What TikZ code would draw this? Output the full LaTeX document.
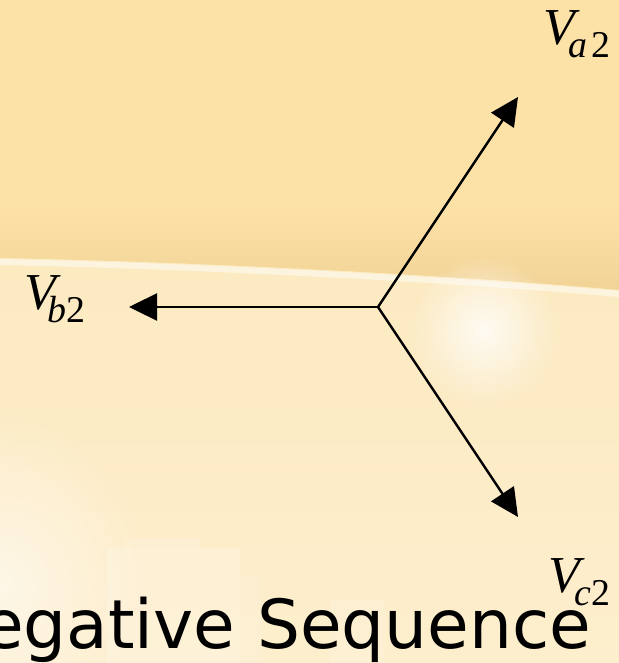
\documentclass[tikz,border=0pt]{standalone}
\usepackage{fontspec}
\setmainfont{Liberation Serif}
\newfontfamily\titlefont{DejaVu Sans}
\usetikzlibrary{arrows.meta,fadings}
\definecolor{skytop}{RGB}{253,226,168}
\definecolor{skyband}{RGB}{241,211,150}
\definecolor{groundtop}{RGB}{252,234,193}
\definecolor{groundbot}{RGB}{253,238,205}
\tikzfading[name=softglow, inner color=transparent!0, outer color=transparent!100]
\tikzset{
  phasor/.style={line width=2.4bp, -{Triangle[length=28bp,width=27bp]}},
  vlabel/.style={anchor=base west, inner sep=0pt, font=\fontsize{52}{52}\selectfont\itshape},
  title/.style={anchor=base west, inner sep=0pt, font=\titlefont\fontsize{68}{68}\selectfont}
}
\newcommand{\vsub}[2]{V\kern#1\raisebox{-13bp}{\fontsize{38}{38}\selectfont #2}}
\begin{document}
\begin{tikzpicture}[x=1bp,y=-1bp]
\useasboundingbox (0,0) rectangle (619,663);
% background sky
\fill[skytop] (0,0) rectangle (619,300);
\begin{scope}
  \clip (0,170) -- (619,170) -- (619,290) .. controls (450,275) and (200,262) .. (0,258) -- cycle;
  \shade[top color=skytop, bottom color=skyband] (0,205) rectangle (619,290);
\end{scope}
% ground
\shade[top color=groundtop, bottom color=groundbot]
  (0,258) .. controls (200,262) and (450,275) .. (619,290) -- (619,663) -- (0,663) -- cycle;
\draw[white, opacity=0.5, line width=6bp]
  (0,262) .. controls (200,266) and (450,279) .. (619,294);
% glows
\fill[white, opacity=0.8, path fading=softglow] (484,330) circle (75);
\fill[white, opacity=0.55, path fading=softglow] (0,585) ellipse (150 and 170);
% faint buildings
\fill[white, opacity=0.2] (107,548) rectangle (240,663);
\fill[white, opacity=0.15] (125,538) rectangle (200,548);
\fill[white, opacity=0.12] (330,600) rectangle (385,663);
\fill[white, opacity=0.1] (240,575) rectangle (262,663);
% phasors
\coordinate (O) at (378,307);
\coordinate (A) at (518,97);
\coordinate (B) at (129,307);
\coordinate (C) at (518,517);
\draw[phasor, line cap=round] (O) -- (A);
\draw[phasor, line cap=round] (O) -- (B);
\draw[phasor, line cap=round] (O) -- (C);
% labels
\node[vlabel] (la) at (543,45) {\vsub{-6bp}{a\kern4bp\upshape 2}};
\node[vlabel] (lb) at (24,309) {\vsub{-8bp}{b\upshape 2}};
\node[vlabel] (lc) at (548,592) {\vsub{-5bp}{c\upshape 2}};
% title
\node[title] (t) at (-18,648) {egative Sequence};
\end{tikzpicture}
\end{document}
